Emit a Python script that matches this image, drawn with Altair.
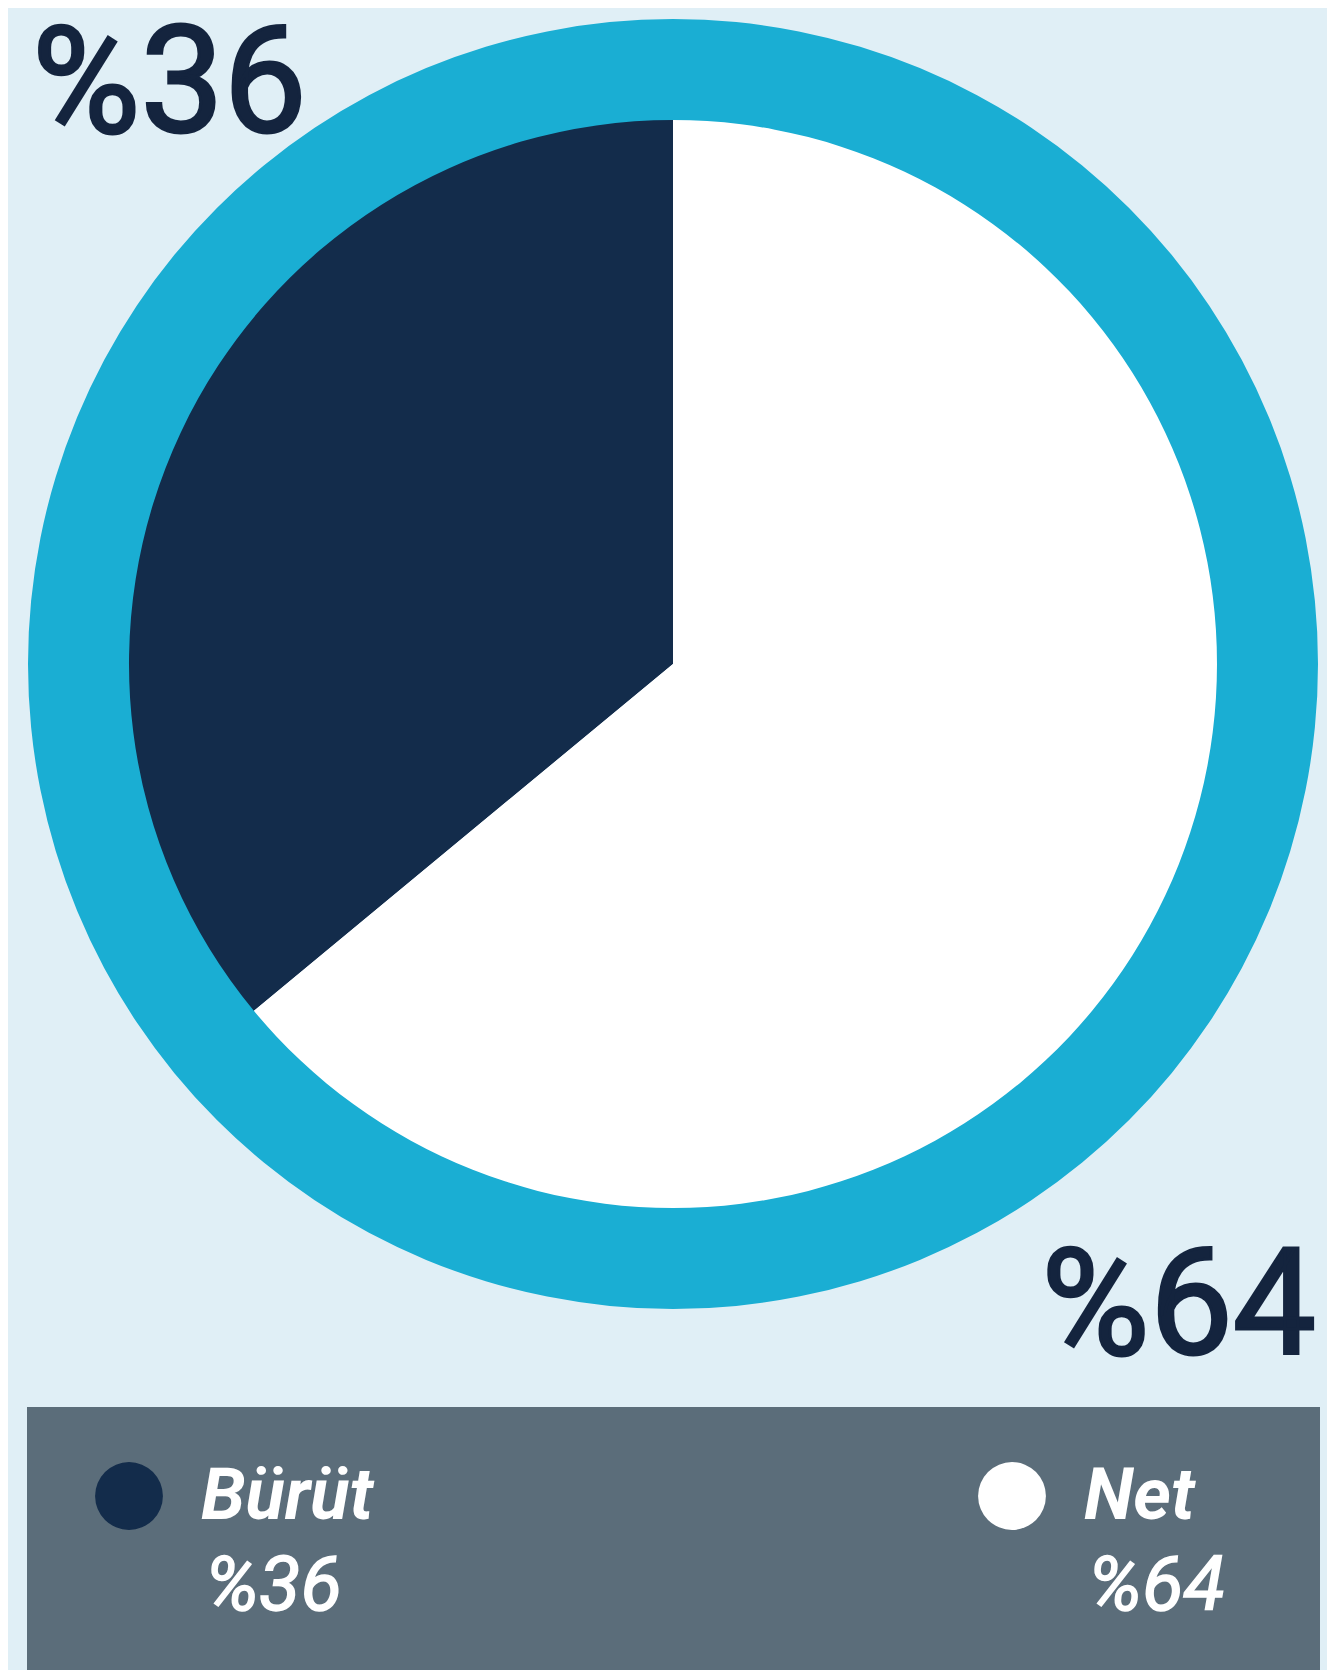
import math
import altair as alt
import pandas as pd

# ---- data ----
categories = ["Bürüt", "Net"]
values = [36, 64]
colors = ["#132C4B", "#FFFFFF"]

df = pd.DataFrame({"category": categories, "value": values})
one = pd.DataFrame({"k": [0]})

W, H = 1319, 1662
CX, CY = 665, 656
NAVY_TEXT = "#14243E"

color_scale = alt.Scale(domain=categories, range=colors)
legend_x = alt.X("category:N", axis=None,
                 scale=alt.Scale(type="point", domain=categories, range=[121, 1004], padding=0))

ring = alt.Chart(one).mark_arc(innerRadius=543, outerRadius=645, color="#1AAED3").encode(
    theta=alt.value(0), theta2=alt.value(2 * math.pi), x=alt.value(CX), y=alt.value(CY)
)

pie = alt.Chart(df).mark_arc(outerRadius=544).encode(
    theta=alt.Theta("value:Q", stack=True),
    color=alt.Color("category:N", scale=color_scale, legend=None),
    order=alt.Order("value:Q", sort="descending"),
    x=alt.value(CX), y=alt.value(CY),
)

big_style = dict(baseline="alphabetic", font="Roboto", fontSize=148, fontWeight="normal",
                 color=NAVY_TEXT, stroke=NAVY_TEXT, strokeWidth=3)

lab_a = alt.Chart(df).transform_filter(alt.datum.category == categories[0]).transform_calculate(
    label="'%' + datum.value").mark_text(align="left", **big_style).encode(
    text="label:N", x=alt.value(24), y=alt.value(124))

lab_b = alt.Chart(df).transform_filter(alt.datum.category == categories[1]).transform_calculate(
    label="'%' + datum.value").mark_text(align="right", **big_style).encode(
    text="label:N", x=alt.value(1308), y=alt.value(1346))

legend_box = alt.Chart(one).mark_rect(color="#5B6D7A").encode(
    x=alt.value(19), x2=alt.value(1312), y=alt.value(1399), y2=alt.value(H))

legend_dots = alt.Chart(df).mark_circle(size=4600, opacity=1).encode(
    x=legend_x, y=alt.value(1488),
    color=alt.Color("category:N", scale=color_scale, legend=None))

legend_names = alt.Chart(df).mark_text(
    align="left", baseline="alphabetic", dx=72, font="Roboto", fontStyle="italic",
    fontWeight="bold", fontSize=72, color="white").encode(
    x=legend_x, y=alt.value(1511), text="category:N")

legend_pcts = alt.Chart(df).transform_calculate(label="'%' + datum.value").mark_text(
    align="left", baseline="alphabetic", dx=76, font="Roboto", fontStyle="italic",
    fontWeight="normal", fontSize=76, color="white", stroke="white", strokeWidth=1.5).encode(
    x=legend_x, y=alt.value(1602), text="label:N")

chart = alt.layer(
    ring, pie, lab_a, lab_b, legend_box, legend_dots, legend_names, legend_pcts
).properties(
    width=W, height=H, background="#E0EFF6", padding=0, autosize=alt.AutoSizeParams(type="none")
).configure_view(stroke=None)

chart.save("out.html", embed_options={"renderer": "svg", "actions": False})
